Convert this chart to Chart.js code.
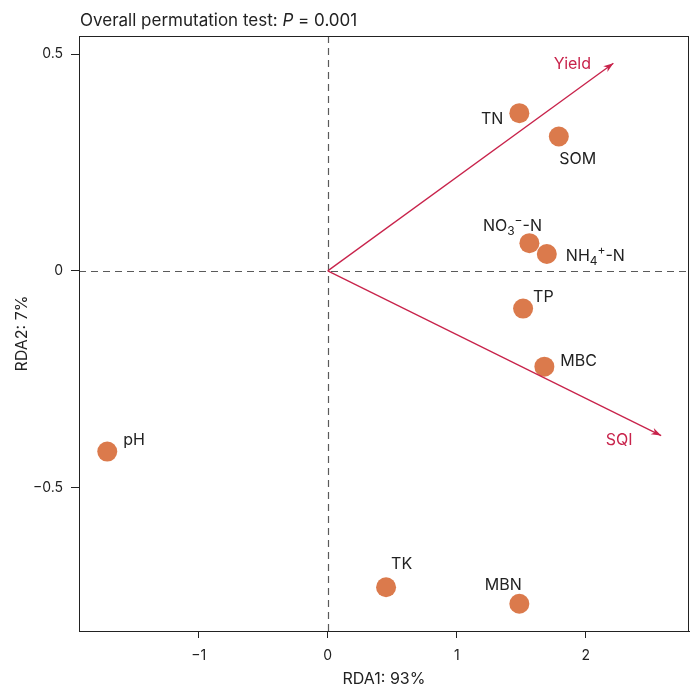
<!DOCTYPE html>
<html><head><meta charset="utf-8">
<script src="https://cdn.jsdelivr.net/npm/chart.js@4/dist/chart.umd.min.js"></script>
<style>html,body{margin:0;padding:0;background:#fff;overflow:hidden}canvas{display:block}</style>
</head><body><canvas id="c" width="692" height="689"></canvas>
<script>
// Soil variables (site scores) on the first two RDA axes
const variables = ['TN', 'SOM', 'NO_3^\u2212-N', 'NH_4^+-N', 'TP', 'MBC', 'pH', 'TK', 'MBN'];
const rda1 = [1.485, 1.791, 1.563, 1.698, 1.514, 1.679, -1.709, 0.452, 1.485];
const rda2 = [0.364, 0.310, 0.064, 0.039, -0.087, -0.221, -0.417, -0.730, -0.768];

// Response variables drawn as arrows from the origin
const responses = ['Yield', 'SQI'];
const respRda1 = [2.214, 2.584];
const respRda2 = [0.479, -0.380];

const xTicks = [-1, 0, 1, 2];
const yTicks = [-0.5, 0, 0.5];

// Label placement relative to each marker (pixels): [dx, dy, align]
const labelOffsets = [
  [-16, 6, 'right'], [19, 23, 'center'], [-17, -17, 'center'], [19, 2, 'left'],
  [10, -11, 'left'], [16, -5, 'left'], [16, -11, 'left'], [5, -23, 'left'], [-16, -19, 'center']
];
const respOffsets = [[-41, 1], [-42, 5]];

const FONT = 'Inter, Roboto, "Liberation Sans", sans-serif';
const POINT_COLOR = '#DB7A4C';
const ARROW_COLOR = '#C8234B';
const INK = '#222';

function fmt(v) {
  const s = String(v);
  return v < 0 ? '\u2212' + s.slice(1) : s;
}

// Parse "_x" subscripts and "^x" superscripts (one character each)
function parseRich(str) {
  const parts = [];
  let buf = '';
  for (let i = 0; i < str.length; i++) {
    const ch = str[i];
    if ((ch === '_' || ch === '^') && i + 1 < str.length) {
      if (buf) { parts.push({ t: buf }); buf = ''; }
      parts.push({ t: str[i + 1], sub: ch === '_', sup: ch === '^' });
      i++;
    } else buf += ch;
  }
  if (buf) parts.push({ t: buf });
  return parts;
}

function drawRich(ctx, str, x, y, align, size) {
  const parts = parseRich(str);
  const small = Math.round(size * 0.72);
  let total = 0;
  parts.forEach(p => {
    ctx.font = (p.sub || p.sup ? small : size) + 'px ' + FONT;
    p.w = ctx.measureText(p.t).width;
    total += p.w;
  });
  let cx = align === 'left' ? x : align === 'right' ? x - total : x - total / 2;
  ctx.textAlign = 'left';
  ctx.textBaseline = 'middle';
  parts.forEach(p => {
    ctx.font = (p.sub || p.sup ? small : size) + 'px ' + FONT;
    const oy = p.sub ? size * 0.32 : p.sup ? -size * 0.33 : 0;
    ctx.fillText(p.t, cx, y + oy);
    cx += p.w;
  });
}

const overlay = {
  id: 'overlay',
  beforeDatasetsDraw(chart) {
    const { ctx, chartArea: a, scales: { x, y } } = chart;
    ctx.save();
    ctx.strokeStyle = '#5a5a5a';
    ctx.lineWidth = 1.2;
    ctx.setLineDash([7, 5]);
    const x0 = Math.round(x.getPixelForValue(0)) + 0.5;
    const y0 = Math.round(y.getPixelForValue(0)) + 0.5;
    ctx.beginPath();
    ctx.moveTo(x0, a.top); ctx.lineTo(x0, a.bottom);
    ctx.moveTo(a.left, y0); ctx.lineTo(a.right, y0);
    ctx.stroke();
    ctx.restore();
  },
  afterDatasetsDraw(chart) {
    const { ctx, chartArea: a, scales: { x, y } } = chart;
    ctx.save();
    // frame
    ctx.strokeStyle = INK;
    ctx.lineWidth = 1;
    ctx.strokeRect(a.left + 0.5, a.top + 0.5, a.right - a.left - 1, a.bottom - a.top);

    // arrow heads and response labels
    const ox = x.getPixelForValue(0), oy = y.getPixelForValue(0);
    responses.forEach((name, i) => {
      const tx = x.getPixelForValue(respRda1[i]);
      const ty = y.getPixelForValue(respRda2[i]);
      const ang = Math.atan2(ty - oy, tx - ox);
      const L = 10, W = 3.6;
      ctx.fillStyle = ARROW_COLOR;
      ctx.beginPath();
      ctx.moveTo(tx, ty);
      ctx.lineTo(tx - L * Math.cos(ang) + W * Math.sin(ang), ty - L * Math.sin(ang) - W * Math.cos(ang));
      ctx.lineTo(tx - L * 0.7 * Math.cos(ang), ty - L * 0.7 * Math.sin(ang));
      ctx.lineTo(tx - L * Math.cos(ang) - W * Math.sin(ang), ty - L * Math.sin(ang) + W * Math.cos(ang));
      ctx.closePath();
      ctx.fill();
      ctx.font = '16px ' + FONT;
      ctx.textAlign = 'center';
      ctx.textBaseline = 'middle';
      ctx.fillText(name, tx + respOffsets[i][0], ty + respOffsets[i][1]);
    });

    // variable labels
    ctx.fillStyle = INK;
    variables.forEach((name, i) => {
      const px = x.getPixelForValue(rda1[i]);
      const py = y.getPixelForValue(rda2[i]);
      const [dx, dy, al] = labelOffsets[i];
      drawRich(ctx, name, px + dx, py + dy, al, 16);
    });

    // title and axis titles
    ctx.fillStyle = INK;
    ctx.textBaseline = 'alphabetic';
    ctx.textAlign = 'left';
    ctx.font = '17px ' + FONT;
    let tx = 80;
    const t1 = 'Overall permutation test: ';
    ctx.fillText(t1, tx, 26);
    tx += ctx.measureText(t1).width;
    ctx.font = 'italic 17px ' + FONT;
    ctx.fillText('P', tx, 26);
    tx += ctx.measureText('P').width;
    ctx.font = '17px ' + FONT;
    ctx.fillText(' = 0.001', tx, 26);

    ctx.font = '16px ' + FONT;
    ctx.textAlign = 'center';
    ctx.textBaseline = 'middle';
    ctx.fillText('RDA1: 93%', (a.left + a.right) / 2, 679);
    ctx.translate(22, (a.top + a.bottom) / 2);
    ctx.rotate(-Math.PI / 2);
    ctx.fillText('RDA2: 7%', 0, 0);
    ctx.restore();
  }
};

const arrowSets = responses.map((name, i) => ({
  type: 'line',
  label: name,
  data: [{ x: 0, y: 0 }, { x: respRda1[i], y: respRda2[i] }],
  borderColor: ARROW_COLOR,
  borderWidth: 1.3,
  pointRadius: 0,
  fill: false,
  order: 0
}));

new Chart(document.getElementById('c'), {
  type: 'scatter',
  data: {
    datasets: [
      {
        label: 'Soil variables',
        data: variables.map((v, i) => ({ x: rda1[i], y: rda2[i] })),
        backgroundColor: POINT_COLOR,
        borderWidth: 0,
        pointRadius: 10,
        pointHoverRadius: 10,
        order: 1
      },
      ...arrowSets
    ]
  },
  options: {
    responsive: false,
    animation: false,
    events: [],
    layout: { autoPadding: false, padding: { top: 36, right: 3, left: 0, bottom: 0 } },
    plugins: { legend: { display: false }, tooltip: { enabled: false }, title: { display: false } },
    scales: {
      x: {
        type: 'linear',
        min: -1.928, max: 2.80,
        afterBuildTicks: s => { s.ticks = xTicks.map(v => ({ value: v })); },
        afterFit: s => { s.height = 58; s.paddingLeft = 0; s.paddingRight = 0; },
        ticks: { callback: v => fmt(v), color: INK, font: { family: FONT, size: 14 }, padding: 9, maxRotation: 0 },
        grid: { display: true, drawOnChartArea: false, drawTicks: true, tickLength: 7, color: INK },
        border: { display: true, color: INK, width: 1 }
      },
      y: {
        type: 'linear',
        min: -0.831, max: 0.542,
        afterBuildTicks: s => { s.ticks = yTicks.map(v => ({ value: v })); },
        afterFit: s => { s.width = 79; s.paddingTop = 0; s.paddingBottom = 0; },
        ticks: { callback: v => fmt(v), color: INK, font: { family: FONT, size: 14 }, padding: 8 },
        grid: { display: true, drawOnChartArea: false, drawTicks: true, tickLength: 8, color: INK },
        border: { display: true, color: INK, width: 1 }
      }
    }
  },
  plugins: [overlay]
});
</script>
</body></html>
